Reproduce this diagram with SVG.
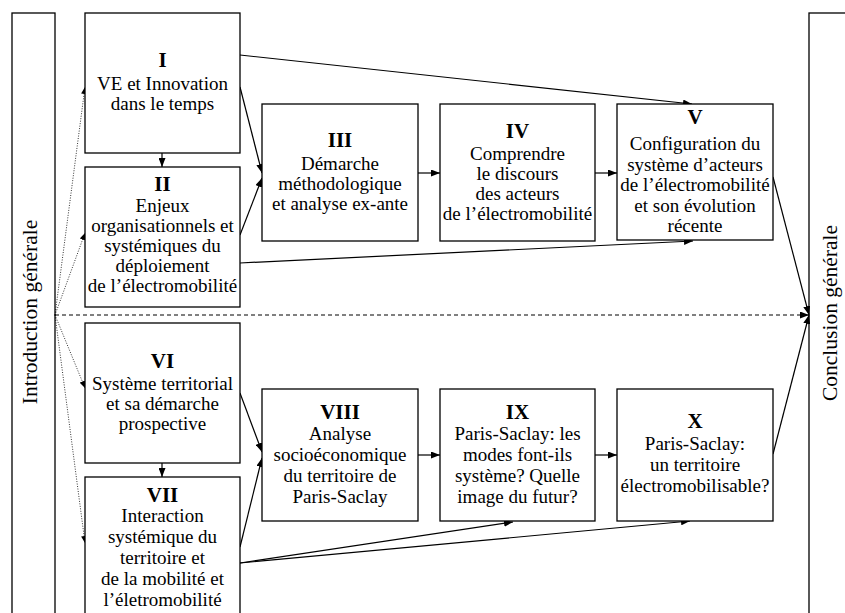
<svg xmlns="http://www.w3.org/2000/svg" width="845" height="613" viewBox="0 0 845 613">
<style>
.box{fill:#fff;stroke:#000;stroke-width:1.3}
.t{font-family:"Liberation Serif","Times New Roman",serif;font-size:19px;fill:#000;text-anchor:middle}
.n{font-family:"Liberation Serif","Times New Roman",serif;font-size:21px;font-weight:bold;fill:#000;text-anchor:middle}
.side{font-family:"Liberation Serif","Times New Roman",serif;font-size:21.5px;fill:#000;text-anchor:middle}
.c{stroke:#000;stroke-width:1.2;fill:none;marker-end:url(#ah)}
.d{stroke:#000;stroke-width:0.8;fill:none;stroke-dasharray:1 1.5;marker-end:url(#ahs)}
.dash{stroke:#000;stroke-width:1;fill:none;stroke-dasharray:4 3;marker-end:url(#ah)}
</style>
<defs>
<marker id="ah" markerUnits="userSpaceOnUse" markerWidth="9" markerHeight="7" refX="9" refY="3.5" orient="auto"><path d="M0,0 L9,3.5 L0,7 z" fill="#000"/></marker>
<marker id="ahs" markerUnits="userSpaceOnUse" markerWidth="7" markerHeight="6" refX="7" refY="3" orient="auto"><path d="M0,0 L7,3 L0,6 z" fill="#000"/></marker>
</defs>
<rect width="845" height="613" fill="#fff"/>

<g id="intro">
<rect class="box" x="12" y="13" width="43" height="620"/>
<text class="side" transform="translate(37,312) rotate(-90)">Introduction générale</text>
</g>
<g id="conclusion">
<rect class="box" x="809" y="13" width="60" height="620"/>
<text class="side" transform="translate(837,313) rotate(-90)">Conclusion générale</text>
</g>

<g id="connectors">
<line class="c" x1="240" y1="55" x2="692" y2="104"/>
<line class="c" x1="240" y1="87" x2="262" y2="173"/>
<line class="c" x1="240" y1="235" x2="262" y2="178"/>
<line class="c" x1="240" y1="263" x2="693" y2="241"/>
<line class="c" x1="418" y1="173" x2="440" y2="173"/>
<line class="c" x1="595" y1="173" x2="617" y2="173"/>
<line class="c" x1="162" y1="153" x2="162" y2="167"/>
<line class="c" x1="773" y1="177" x2="809" y2="315"/>
<line class="c" x1="773" y1="454" x2="809" y2="315"/>
<line class="dash" x1="55" y1="315" x2="809" y2="315"/>
<line class="c" x1="162" y1="463" x2="162" y2="477"/>
<line class="c" x1="240" y1="393" x2="262" y2="452"/>
<line class="c" x1="240" y1="547" x2="262" y2="458"/>
<line class="c" x1="418" y1="455" x2="440" y2="455"/>
<line class="c" x1="595" y1="455" x2="617" y2="455"/>
<line class="c" x1="240" y1="563" x2="513" y2="522"/>
<line class="c" x1="240" y1="563" x2="690" y2="521"/>
<line class="d" x1="55" y1="315" x2="85" y2="87"/>
<line class="d" x1="55" y1="315" x2="85" y2="233"/>
<line class="d" x1="55" y1="315" x2="85" y2="388"/>
<line class="d" x1="55" y1="315" x2="85" y2="543"/>
</g>

<g id="n1">
<rect class="box" x="85" y="13" width="155" height="140"/>
<text class="n" x="162.5" y="67">I</text>
<text class="t" x="162.5" y="90">VE et Innovation</text>
<text class="t" x="162.5" y="110">dans le temps</text>
</g>
<g id="n2">
<rect class="box" x="85" y="167" width="155" height="140"/>
<text class="n" x="162.5" y="191">II</text>
<text class="t" x="162.5" y="212">Enjeux</text>
<text class="t" x="162.5" y="232">organisationnels et</text>
<text class="t" x="162.5" y="252">systémiques du</text>
<text class="t" x="162.5" y="272">déploiement</text>
<text class="t" x="162.5" y="292">de l’électromobilité</text>
</g>
<g id="n3">
<rect class="box" x="262" y="104" width="156" height="137"/>
<text class="n" x="340" y="147">III</text>
<text class="t" x="340" y="170">Démarche</text>
<text class="t" x="340" y="190">méthodologique</text>
<text class="t" x="340" y="210">et analyse ex-ante</text>
</g>
<g id="n4">
<rect class="box" x="440" y="104" width="155" height="137"/>
<text class="n" x="517.5" y="138">IV</text>
<text class="t" x="517.5" y="160">Comprendre</text>
<text class="t" x="517.5" y="180">le discours</text>
<text class="t" x="517.5" y="200">des acteurs</text>
<text class="t" x="517.5" y="220">de l’électromobilité</text>
</g>
<g id="n5">
<rect class="box" x="617" y="104" width="156" height="136"/>
<text class="n" x="695" y="124">V</text>
<text class="t" x="695" y="150">Configuration du</text>
<text class="t" x="695" y="170.5">système d’acteurs</text>
<text class="t" x="695" y="191">de l’électromobilité</text>
<text class="t" x="695" y="211.5">et son évolution</text>
<text class="t" x="695" y="232">récente</text>
</g>
<g id="n6">
<rect class="box" x="85" y="323" width="155" height="140"/>
<text class="n" x="162.5" y="368">VI</text>
<text class="t" x="162.5" y="390">Système territorial</text>
<text class="t" x="162.5" y="410">et sa démarche</text>
<text class="t" x="162.5" y="430">prospective</text>
</g>
<g id="n7">
<rect class="box" x="85" y="477" width="155" height="150"/>
<text class="n" x="162.5" y="502">VII</text>
<text class="t" x="162.5" y="522">Interaction</text>
<text class="t" x="162.5" y="543">systémique du</text>
<text class="t" x="162.5" y="564">territoire et</text>
<text class="t" x="162.5" y="585">de la mobilité et</text>
<text class="t" x="162.5" y="606">l’életromobilité</text>
</g>
<g id="n8">
<rect class="box" x="262" y="389" width="156" height="132"/>
<text class="n" x="340" y="419">VIII</text>
<text class="t" x="340" y="440">Analyse</text>
<text class="t" x="340" y="461">socioéconomique</text>
<text class="t" x="340" y="482">du territoire de</text>
<text class="t" x="340" y="503">Paris-Saclay</text>
</g>
<g id="n9">
<rect class="box" x="440" y="389" width="155" height="132"/>
<text class="n" x="517.5" y="419">IX</text>
<text class="t" x="517.5" y="440">Paris-Saclay: les</text>
<text class="t" x="517.5" y="461">modes font-ils</text>
<text class="t" x="517.5" y="482">système? Quelle</text>
<text class="t" x="517.5" y="503">image du futur?</text>
</g>
<g id="n10">
<rect class="box" x="617" y="389" width="156" height="132"/>
<text class="n" x="695" y="428">X</text>
<text class="t" x="695" y="450">Paris-Saclay:</text>
<text class="t" x="695" y="471">un territoire</text>
<text class="t" x="695" y="492">électromobilisable?</text>
</g>
</svg>
